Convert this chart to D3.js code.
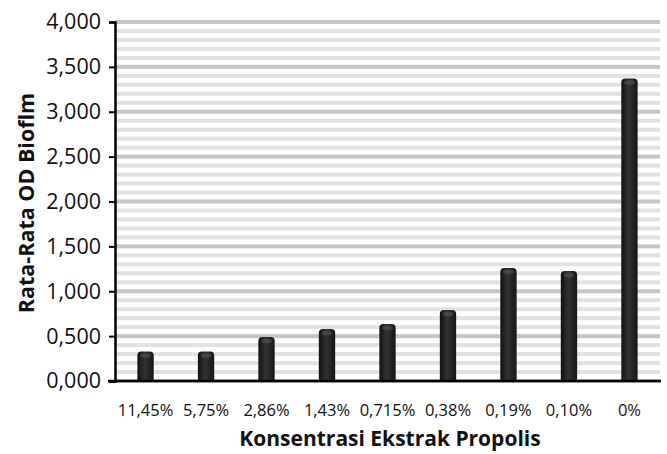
<!DOCTYPE html>
<html>
<head>
<meta charset="utf-8">
<script src="https://cdn.jsdelivr.net/npm/d3@7"></script>
<style>
  body { margin: 0; background: #fff; }
  svg text { font-family: "Open Sans", "Lato", sans-serif; fill: #111; }
</style>
</head>
<body>
<div id="chart"></div>
<script>
// Data
const categories = ['11,45%', '5,75%', '2,86%', '1,43%', '0,715%', '0,38%', '0,19%', '0,10%', '0%'];
const values = [0.33, 0.33, 0.49, 0.58, 0.635, 0.79, 1.26, 1.225, 3.37];
const yTicks = [0, 0.5, 1, 1.5, 2, 2.5, 3, 3.5, 4];

const width = 667;
const height = 454;
const margin = { top: 22, right: 7, bottom: 73, left: 115 };

const svg = d3.select('#chart')
    .append('svg')
    .attr('width', width)
    .attr('height', height);

const defs = svg.append('defs');
const grad = defs.append('linearGradient')
    .attr('id', 'barGrad')
    .attr('x1', '0%').attr('x2', '100%')
    .attr('y1', '0%').attr('y2', '0%');
grad.append('stop').attr('offset', '0%').attr('stop-color', '#111');
grad.append('stop').attr('offset', '45%').attr('stop-color', '#333');
grad.append('stop').attr('offset', '100%').attr('stop-color', '#151515');

const x = d3.scaleBand()
    .domain(categories)
    .range([margin.left, width - margin.right])
    .paddingInner(0.73)
    .paddingOuter(0.37);

const y = d3.scaleLinear()
    .domain([0, 4])
    .range([height - margin.bottom, margin.top]);

// Striped background: minor lines every 0.1, darker ones on the major ticks
const minor = d3.range(0, 4.0001, 0.1);
svg.append('g')
    .selectAll('rect')
    .data(minor)
    .enter()
    .append('rect')
    .attr('x', margin.left)
    .attr('width', width - margin.right - margin.left)
    .attr('y', d => y(d) - 2)
    .attr('height', 4)
    .attr('fill', (d, i) => i % 5 === 0 ? '#c6c6c6' : '#e2e2e2');

// Bars
const bars = svg.append('g');
bars.selectAll('path')
    .data(values)
    .enter()
    .append('path')
    .attr('d', (d, i) => {
        const x0 = x(categories[i]);
        const w = x.bandwidth();
        const top = y(d);
        const base = y(0);
        const r = 4;
        return `M${x0},${base} L${x0},${top + r} Q${x0},${top} ${x0 + r},${top} L${x0 + w - r},${top} Q${x0 + w},${top} ${x0 + w},${top + r} L${x0 + w},${base} Z`;
    })
    .attr('fill', 'url(#barGrad)');

// Lighter cap on each bar
bars.selectAll('ellipse')
    .data(values)
    .enter()
    .append('ellipse')
    .attr('cx', (d, i) => x(categories[i]) + x.bandwidth() / 2)
    .attr('cy', d => y(d) + 4)
    .attr('rx', x.bandwidth() / 2 - 3)
    .attr('ry', 2.5)
    .attr('fill', '#555')
    .attr('opacity', 0.6);

// Y axis
const yAxis = d3.axisLeft(y)
    .tickValues(yTicks)
    .tickSize(6)
    .tickPadding(8)
    .tickFormat(d => {
        const s = d3.format('.3f')(d).split('.');
        return s[0] + ',' + s[1];
    });

const gy = svg.append('g')
    .attr('transform', `translate(${margin.left},0)`)
    .call(yAxis);
gy.select('.domain').attr('stroke', '#000').attr('stroke-width', 2.5);
gy.selectAll('.tick line').attr('stroke', '#000').attr('stroke-width', 2);
gy.selectAll('.tick text').attr('font-size', 21.5);

// X axis line
svg.append('line')
    .attr('x1', margin.left - 7)
    .attr('x2', width - margin.right + 1)
    .attr('y1', y(0))
    .attr('y2', y(0))
    .attr('stroke', '#000')
    .attr('stroke-width', 2.5);

// X labels
svg.append('g')
    .selectAll('text')
    .data(categories)
    .enter()
    .append('text')
    .attr('x', d => x(d) + x.bandwidth() / 2)
    .attr('y', 416)
    .attr('text-anchor', 'middle')
    .attr('font-size', 16.5)
    .text(d => d);

// Axis titles
svg.append('text')
    .attr('x', 390)
    .attr('y', 446)
    .attr('text-anchor', 'middle')
    .attr('font-size', 21)
    .attr('font-weight', 'bold')
    .text('Konsentrasi Ekstrak Propolis');

svg.append('text')
    .attr('transform', 'translate(34,203) rotate(-90)')
    .attr('text-anchor', 'middle')
    .attr('font-size', 21.5)
    .attr('font-weight', 'bold')
    .text('Rata-Rata OD Bioflm');
</script>
</body>
</html>
